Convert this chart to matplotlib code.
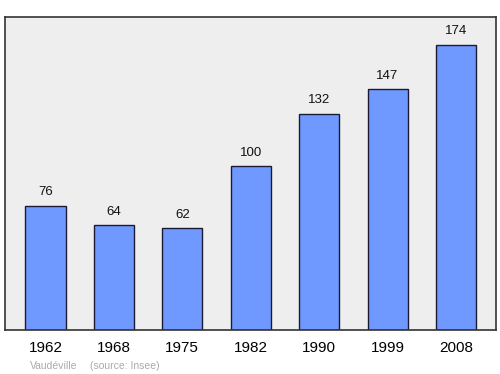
import matplotlib
matplotlib.use("Agg")
import matplotlib.pyplot as plt

years = ["1962", "1968", "1975", "1982", "1990", "1999", "2008"]
population = [76, 64, 62, 100, 132, 147, 174]
place = "Vaudéville"
source = "(source: Insee)"

plt.rcParams['font.family'] = ['Liberation Sans', 'DejaVu Sans']

fig = plt.figure(figsize=(5, 3.74), dpi=100)
W, H = 500, 374
ax = fig.add_axes([5 / W, (H - 330) / H, 491 / W, 313 / H])
ax.set_facecolor("#eeeeee")

x = list(range(len(years)))
ax.bar(x, population, width=0.585, color="#7099ff", edgecolor="#1a1a33", linewidth=1.0, zorder=2)
for xi, v in zip(x, population):
    ax.text(xi, v + 4.6, str(v), ha="center", va="bottom", fontsize=9.5, color="#111111")

ax.set_xlim(-0.592, 6.586)
ax.set_ylim(0, 191.1)
ax.set_xticks(x)
ax.set_xticklabels(years, fontsize=11)
ax.tick_params(axis="x", length=0, pad=8)
ax.set_yticks([])
for s in ax.spines.values():
    s.set_color("#333333")
    s.set_linewidth(1.2)

fig.text(30 / W, 1 - 366 / H, place, fontsize=7.5, color="#aaaaaa", va="center", ha="left")
fig.text(90 / W, 1 - 366 / H, source, fontsize=7.5, color="#aaaaaa", va="center", ha="left")

fig.savefig("out.png", dpi=100)
